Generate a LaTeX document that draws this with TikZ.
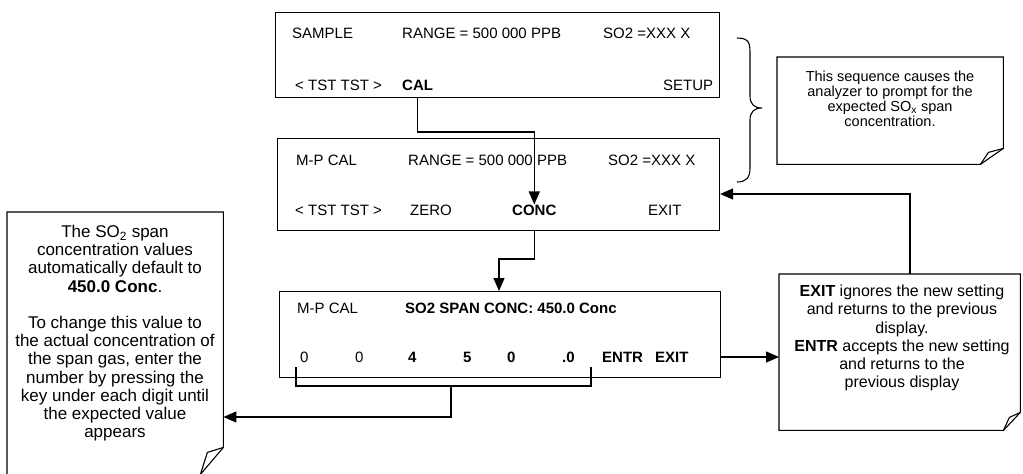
\documentclass[tikz,border=0pt]{standalone}
\usepackage{fontspec}
\setmainfont{Liberation Sans}
\usetikzlibrary{arrows.meta,calc}

\tikzset{
  lcd/.style={draw, line width=1.1pt, inner sep=0pt, anchor=north west},
  frame/.style={inner sep=0pt, anchor=north west},
  outline/.style={line width=1.1pt, line join=miter},
  disp/.style={anchor=west, inner sep=0pt, font=\fontsize{15}{17}\selectfont},
  dispb/.style={disp, font=\fontsize{15}{17}\selectfont\bfseries},
  notetxt/.style={align=center, inner sep=0pt, anchor=north},
  wire/.style={line width=1.3pt},
  flow/.style={line width=1.3pt, -{Triangle[length=13pt,width=11pt]}},
}

\begin{document}
\begin{tikzpicture}[x=1pt, y=1pt]
    \useasboundingbox (0,0) rectangle (1023,-474);

    \node[lcd, minimum width=444, minimum height=85] (sample) at (275,-12) {};
    \node[disp] (sname) at (292,-33) {SAMPLE};
    \node[disp] (srange) at (402,-33) {RANGE = 500 000 PPB};
    \node[disp] (sconc) at (603,-33) {SO2 =XXX X};
    \node[disp] (stst) at (295,-85) {< TST TST >};
    \node[dispb] (cal) at (402,-85) {CAL};
    \node[disp] (setup) at (663,-85) {SETUP};

    \node[lcd, minimum width=442, minimum height=92] (mpcal) at (277,-138) {};
    \node[disp] (mname) at (296,-160) {M-P CAL};
    \node[disp] (mrange) at (408,-160) {RANGE = 500 000 PPB};
    \node[disp] (mconc) at (608,-160) {SO2 =XXX X};
    \node[disp] (mtst) at (295,-210) {< TST TST >};
    \node[disp] (zero) at (410,-210) {ZERO};
    \node[dispb] (conc) at (512,-210) {CONC};
    \node[disp] (mexit) at (648,-210) {EXIT};

    \node[lcd, minimum width=441, minimum height=86] (span) at (279,-291) {};
    \node[disp] (pname) at (297,-308) {M-P CAL};
    \node[dispb] (pval) at (405,-308) {SO2 SPAN CONC: 450.0 Conc};
    \node[disp] (d1) at (300,-357) {0};
    \node[disp] (d2) at (355,-357) {0};
    \node[dispb] (d3) at (408,-357) {4};
    \node[dispb] (d4) at (463,-357) {5};
    \node[dispb] (d5) at (507,-357) {0};
    \node[dispb] (d6) at (562,-357) {.0};
    \node[dispb] (entr) at (602,-357) {ENTR};
    \node[dispb] (pexit) at (655,-357) {EXIT};

    \draw[outline] (737,-38) .. controls (750,-38) and (750,-44) .. (750,-55) -- (750,-96)
        .. controls (750,-104) and (754,-108) .. (762,-108)
        .. controls (754,-108) and (750,-112) .. (750,-120) -- (750,-168)
        .. controls (750,-178) and (746,-182) .. (737,-182);

    \node[frame, minimum width=226, minimum height=107] (seqbox) at (777,-57) {};
    \draw[outline] (seqbox.north west) -- (seqbox.north east) -- ($(seqbox.south east)+(0,16)$)
        -- ($(seqbox.south east)+(-23,0)$) -- (seqbox.south west) -- cycle;
    \draw[outline] ($(seqbox.south east)+(-23,0)$) -- ++(8,12) -- ($(seqbox.south east)+(0,16)$);
    \node[notetxt, font=\fontsize{14.5}{15}\selectfont] (seqtxt) at (890,-71)
        {This sequence causes the\\analyzer to prompt for the\\expected SO\textsubscript{x} span\\concentration.};

    \node[frame, minimum width=241, minimum height=156] (exitbox) at (779,-274) {};
    \draw[outline] (exitbox.north west) -- (exitbox.north east) -- ($(exitbox.south east)+(0,18)$)
        -- ($(exitbox.south east)+(-17,0)$) -- (exitbox.south west) -- cycle;
    \draw[outline] ($(exitbox.south east)+(-17,0)$) -- ++(6,13) -- ($(exitbox.south east)+(0,18)$);
    \node[notetxt, font=\fontsize{16}{18.2}\selectfont] (exittxt) at (902,-285)
        {\textbf{EXIT} ignores the new setting\\and returns to the previous\\display.\\
         \textbf{ENTR} accepts the new setting\\and returns to the\\previous display};

    \node[frame, minimum width=216, minimum height=262] (spanbox) at (7,-212) {};
    \draw[outline] (spanbox.south west) -- (spanbox.north west) -- (spanbox.north east)
        -- ($(spanbox.south east)+(0,27)$) -- ($(spanbox.south east)+(-23,0)$);
    \draw[outline] ($(spanbox.south east)+(-23,0)$) -- ++(7,22) -- ($(spanbox.south east)+(0,27)$);
    \node[notetxt, font=\fontsize{17}{18.2}\selectfont] (spantxt) at (115,-225)
        {The SO\textsubscript{2} span\\concentration values\\automatically default to\\\textbf{450.0 Conc}.\\[18.2pt]
         To change this value to\\the actual concentration of\\the span gas, enter the\\number by pressing the\\
         key under each digit until\\the expected value\\appears};

    \draw[flow] (cal |- sample.south) -- ++(0,-34) -| (conc.north);
    \draw[flow] (conc |- mpcal.south) -- ++(0,-28) -| ($(span.north west)+(220,0)$);
    \draw[flow] (span.east |- d1) -- (exitbox.west |- d1);
    \draw[flow] ($(exitbox.north west)+(131,0)$) |- ($(mpcal.north east)+(0,-56)$);

    \draw[wire] ($(d1.west)+(-4,-10)$) -- ++(0,-19) -| ($(d6.east)+(16,-10)$);
    \coordinate (brk) at ($(d1.west)+(151,-29)$);
    \coordinate (brkend) at ($(brk)+(0,-31)$);
    \draw[flow] (brk) -- (brkend) -- (spanbox.east |- brkend);

\end{tikzpicture}
\end{document}
